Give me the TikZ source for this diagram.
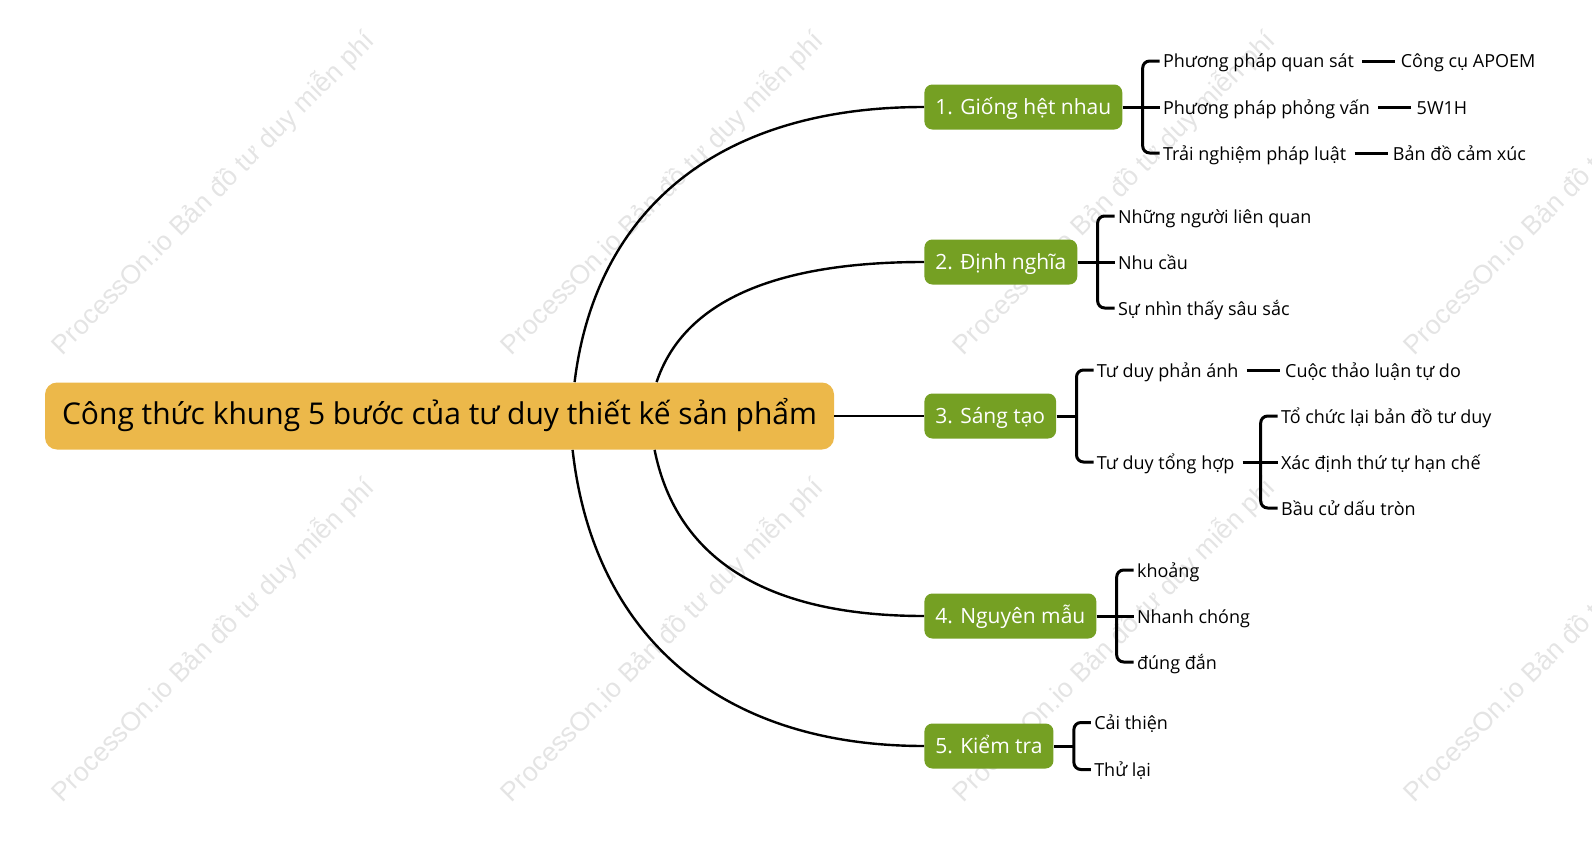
\documentclass[tikz,border=0pt]{standalone}
\usepackage{fontspec}
\setmainfont{Open Sans}
\newfontfamily\wmfont{Liberation Sans}
\usetikzlibrary{positioning,calc}
\definecolor{HubOrange}{HTML}{ECB84A}
\definecolor{StageGreen}{HTML}{75A023}
\definecolor{WmGray}{HTML}{E4E4E4}
\tikzset{
  hub/.style={fill=HubOrange,rounded corners=6pt,minimum width=394.5pt,minimum height=33.5pt,
    font=\fontsize{15}{17}\selectfont,text height=0.87em,text depth=0em},
  stage/.style={fill=StageGreen,text=white,rounded corners=4pt,minimum height=22.5pt,inner xsep=5.5pt,
    font=\fontsize{10.5}{12}\selectfont,text height=0.8em,text depth=0.1em,anchor=west},
  leaf/.style={inner xsep=1.5pt,inner ysep=0pt,font=\fontsize{9}{11}\selectfont,
    text height=0.8em,text depth=0.1em,anchor=west},
  trunk/.style={line width=1.2pt},
  twig/.style={line width=1.5pt,rounded corners=3.5pt},
  link/.style={line width=1.5pt,shorten <=2.5pt,shorten >=1pt},
  wmtext/.style={text=WmGray,rotate=45,font=\wmfont\fontsize{13.3}{15}\selectfont}
}

\begin{document}
\begin{tikzpicture}[x=0.5pt,y=-0.5pt]
\useasboundingbox (0,0) rectangle (1592,846);
\foreach \i/\x/\y in {1/213/193,2/662/193,3/1114/193,4/1565/193,5/213/640,6/662/640,7/1114/640,8/1565/640}
  \node[wmtext] (wm\i) at (\x,\y) {ProcessOn.io Bản đồ tư duy miễn phí};

\node[hub] (root) at (439.5,416) {Công thức khung 5 bước của tư duy thiết kế sản phẩm};
\node[stage] (b1) at (924,107) {1. Giống hệt nhau};
\node[stage] (b2) at (924,262) {2. Định nghĩa};
\node[stage] (b3) at (924,416) {3. Sáng tạo};
\node[stage] (b4) at (924,616) {4. Nguyên mẫu};
\node[stage] (b5) at (924,746) {5. Kiểm tra};

\draw[trunk] ($(root.north west)+(530,0)$) .. controls +(20,-165) and +(-214,0) .. (b1.west);
\draw[trunk] ($(root.north west)+(612,0)$) .. controls +(25,-75) and +(-160,0) .. (b2.west);
\draw[trunk] (root.east) -- (b3.west);
\draw[trunk] ($(root.south west)+(610,0)$) .. controls +(20,100) and +(-170,0) .. (b4.west);
\draw[trunk] ($(root.south west)+(528,0)$) .. controls +(20,180) and +(-210,0) .. (b5.west);

\node[leaf] (l11) at ([xshift=18.5pt,yshift=23pt]b1.east) {Phương pháp quan sát};
\node[leaf] (l12) at ([xshift=18.5pt]b1.east) {Phương pháp phỏng vấn};
\node[leaf] (l13) at ([xshift=18.5pt,yshift=-23pt]b1.east) {Trải nghiệm pháp luật};
\node[leaf,right=20pt of l11] (g11) {Công cụ APOEM};
\node[leaf,right=20pt of l12] (g12) {5W1H};
\node[leaf,right=20pt of l13] (g13) {Bản đồ cảm xúc};
\coordinate (k1) at ([xshift=10pt]b1.east);
\draw[twig] (b1.east) -- (l12.west);
\draw[twig] (l11.west) -| (k1) |- (l13.west);
\draw[link] (l11.east) -- (g11.west);
\draw[link] (l12.east) -- (g12.west);
\draw[link] (l13.east) -- (g13.west);

\node[leaf] (l21) at ([xshift=18.5pt,yshift=23pt]b2.east) {Những người liên quan};
\node[leaf] (l22) at ([xshift=18.5pt]b2.east) {Nhu cầu};
\node[leaf] (l23) at ([xshift=18.5pt,yshift=-23pt]b2.east) {Sự nhìn thấy sâu sắc};
\coordinate (k2) at ([xshift=10pt]b2.east);
\draw[twig] (b2.east) -- (l22.west);
\draw[twig] (l21.west) -| (k2) |- (l23.west);

\node[leaf] (l31) at ([xshift=18.5pt,yshift=23pt]b3.east) {Tư duy phản ánh};
\node[leaf] (l32) at ([xshift=18.5pt,yshift=-23pt]b3.east) {Tư duy tổng hợp};
\node[leaf,right=20pt of l31] (g31) {Cuộc thảo luận tự do};
\node[leaf] (g32) at ([xshift=20pt,yshift=23pt]l32.east) {Tổ chức lại bản đồ tư duy};
\node[leaf] (g33) at ([xshift=20pt]l32.east) {Xác định thứ tự hạn chế};
\node[leaf] (g34) at ([xshift=20pt,yshift=-23pt]l32.east) {Bầu cử dấu tròn};
\coordinate (k3) at ([xshift=10pt]b3.east);
\coordinate (k32) at ([xshift=11.5pt]l32.east);
\draw[twig] (b3.east) -- (k3);
\draw[twig] (l31.west) -| (k3) |- (l32.west);
\draw[link] (l31.east) -- (g31.west);
\draw[twig,shorten <=2.5pt] (l32.east) -- (g33.west);
\draw[twig] (g32.west) -| (k32) |- (g34.west);

\node[leaf] (l41) at ([xshift=18.5pt,yshift=23pt]b4.east) {khoảng};
\node[leaf] (l42) at ([xshift=18.5pt]b4.east) {Nhanh chóng};
\node[leaf] (l43) at ([xshift=18.5pt,yshift=-23pt]b4.east) {đúng đắn};
\coordinate (k4) at ([xshift=10pt]b4.east);
\draw[twig] (b4.east) -- (l42.west);
\draw[twig] (l41.west) -| (k4) |- (l43.west);

\node[leaf] (l51) at ([xshift=18.5pt,yshift=11.75pt]b5.east) {Cải thiện};
\node[leaf] (l52) at ([xshift=18.5pt,yshift=-11.75pt]b5.east) {Thử lại};
\coordinate (k5) at ([xshift=10pt]b5.east);
\draw[twig] (b5.east) -- (k5);
\draw[twig] (l51.west) -| (k5) |- (l52.west);
\end{tikzpicture}
\end{document}
